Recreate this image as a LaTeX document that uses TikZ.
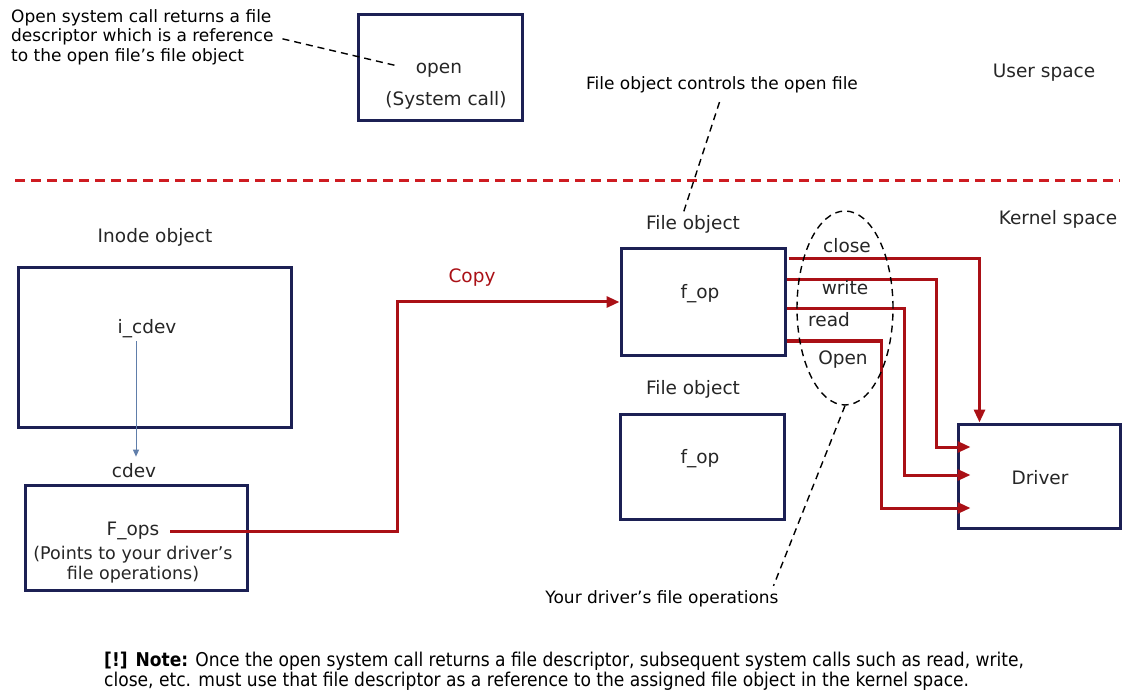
\documentclass[tikz,border=0pt]{standalone}
\usepackage{fontspec}
\setmainfont{DejaVu Sans}
\newfontfamily\condfont{DejaVu Sans Condensed}
\usetikzlibrary{arrows.meta, positioning, shapes.geometric, calc}
\definecolor{boxnavy}{RGB}{28, 32, 84}
\definecolor{linkred}{RGB}{170, 16, 22}
\definecolor{splitred}{RGB}{206, 28, 34}
\definecolor{pointblue}{RGB}{96, 126, 170}

\tikzset{
  objbox/.style={draw=boxnavy, line width=3pt, inner sep=0pt},
  lbl/.style={font=\fontsize{18.5}{22}\selectfont, inner sep=1pt, text=black!85},
  note/.style={font=\fontsize{17}{19.5}\selectfont, inner sep=1pt, align=left},
  redlink/.style={linkred, line width=3pt, -{Triangle[length=13pt, width=11pt]}},
  callout/.style={black, line width=1.4pt, dash pattern=on 7pt off 5pt}
}

\begin{document}
\begin{tikzpicture}[x=1pt, y=-1pt]
  \useasboundingbox (0,0) rectangle (1129,700);
  \fill[white] (0,0) rectangle (1129,700);

  % User space
  \node[objbox, minimum width=164pt, minimum height=106pt] (openbox) at (440,68) {};
  \node[lbl] (opentxt) at (439,70) {open};
  \node[lbl] (syscall) at (446,100) {(System call)};
  \node[note, anchor=west] (fdnote) at (10,37)
    {Open system call returns a file\\descriptor which is a reference\\to the open file’s file object};
  \draw[callout, shorten <=8pt, shorten >=18pt] (fdnote.east) -- (opentxt.west);
  \node[note] (ctrlnote) at (722,85) {File object controls the open file};
  \node[lbl] (userlbl) at (1044,73) {User space};

  % Split between user and kernel space
  \draw[splitred, line width=3pt, dash pattern=on 10pt off 6pt] (15,181) -- (1120,181);
  \node[lbl] (kernlbl) at (1058,219) {Kernel space};

  % Inode and cdev
  \node[lbl] (inodelbl) at (155,237) {Inode object};
  \node[objbox, minimum width=273pt, minimum height=159pt] (inode) at (154.5,347.5) {};
  \node[lbl] (icdev) at (147,329) {i\_cdev};
  \node[lbl] (cdevlbl) at (134,471) {cdev};
  \node[objbox, minimum width=222pt, minimum height=105pt] (cdevbox) at (136,537.5) {};
  \node[lbl] (fops) at (133,531) {F\_ops};
  \node[lbl, align=center, font=\fontsize{17.5}{20}\selectfont] (pointsto) at (133,565)
    {(Points to your driver’s\\file operations)};
  \draw[pointblue, line width=0.8pt, -{Triangle[length=7pt, width=6pt]},
    shorten <=2pt, shorten >=6pt] ([xshift=-11pt]icdev.south) -- ([xshift=2pt]cdevlbl.north);

  % File objects
  \node[lbl] (fobjlbla) at (693,224) {File object};
  \node[objbox, minimum width=164pt, minimum height=106pt] (fobja) at (703,302) {};
  \node[lbl] (fopa) at (700,294) {f\_op};
  \node[lbl] (fobjlblb) at (693,389) {File object};
  \node[objbox, minimum width=164pt, minimum height=105pt] (fobjb) at (702,466.5) {};
  \node[lbl] (fopb) at (700,459) {f\_op};
  \draw[callout, shorten <=8pt, shorten >=2pt] (ctrlnote.south) -- ([xshift=-10pt]fobjlbla.north);

  % Copy of the file operations pointer
  \node[lbl, text=linkred] (copy) at (472,278) {Copy};
  \coordinate (copybend) at (397,302);
  \draw[redlink, shorten <=10pt] (fops.east) -| (copybend) -- (fobja.west);

  % Driver and its operations
  \node[objbox, minimum width=162pt, minimum height=104pt] (driver) at (1039,476) {};
  \node[lbl] (drvtxt) at (1040,478) {Driver};
  \draw[redlink] ([xshift=2pt, yshift=43pt]fobja.east) -| ([xshift=23pt]driver.north west);
  \draw[redlink] ([yshift=22pt]fobja.east) -- ++(150,0) |- ([xshift=14pt, yshift=29pt]driver.west);
  \draw[redlink] ([yshift=-7pt]fobja.east) -- ++(118,0) |- ([xshift=14pt, yshift=1pt]driver.west);
  \draw[redlink] ([yshift=-39pt]fobja.east) -- ++(95,0) |- ([xshift=14pt, yshift=-32pt]driver.west);
  \node[lbl] (closelbl) at (847,246) {close};
  \node[lbl] (writelbl) at (845,288) {write};
  \node[lbl] (readlbl) at (829,320) {read};
  \node[lbl] (openlbl) at (843,360) {Open};

  \node[draw, ellipse, line width=1.4pt, dash pattern=on 7pt off 5pt,
    minimum width=96pt, minimum height=194pt] (opsring) at (845,308) {};
  \node[note] (opslbl) at (662,599) {Your driver’s file operations};
  \draw[callout, shorten >=4pt] (opsring.south) -- ([xshift=110pt]opslbl.north);

  % Note
  \node[note, anchor=west, font=\condfont\fontsize{19}{20}\selectfont] (footnote) at (103,671)
    {\textbf{[!] Note:} Once the open system call returns a file descriptor, subsequent system calls such as read, write,\\close, etc. must use that file descriptor as a reference to the assigned file object in the kernel space.};
\end{tikzpicture}
\end{document}
